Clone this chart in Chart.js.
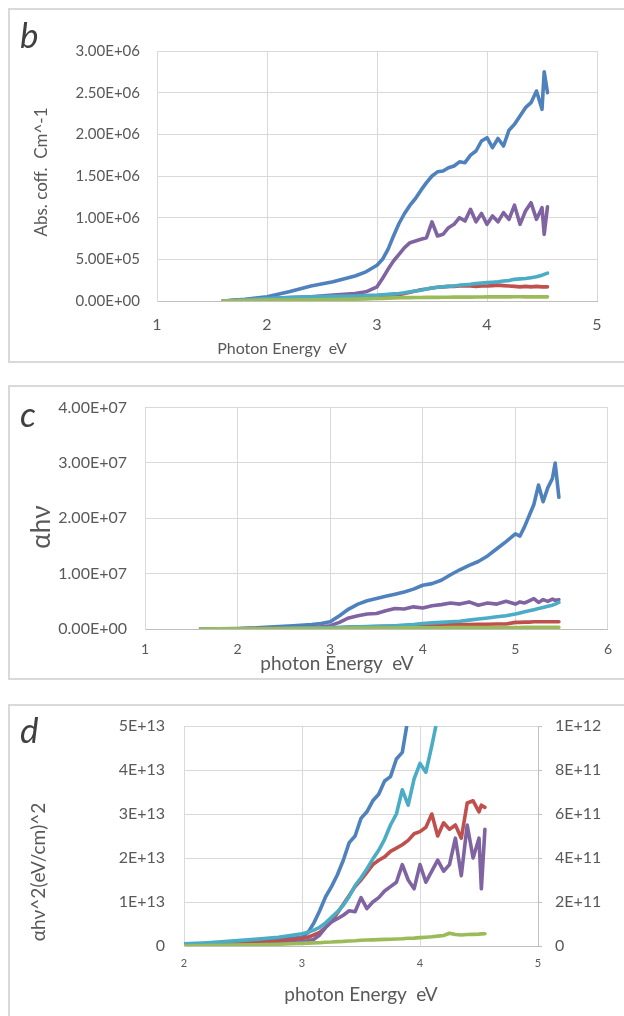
<!DOCTYPE html>
<html>
<head>
<meta charset="utf-8">
<script src="https://cdn.jsdelivr.net/npm/chart.js@4.4.1/dist/chart.umd.min.js"></script>
<style>
  body { margin: 0; background: #fff; }
  #page { position: relative; width: 624px; height: 1016px; overflow: hidden; background: #fff; }
  .panel { position: absolute; border: 2px solid #d9d9d9; box-sizing: border-box; }
  canvas { position: absolute; left: 0; }
  .t { position: absolute; font-family: Lato, sans-serif; color: #595959; white-space: pre; line-height: 1; transform: translate(-50%, -50%); }
  .r { transform: translate(-50%, -50%) rotate(-90deg); }
  .lab { position: absolute; font-family: Lato, sans-serif; font-style: italic; color: #404040; font-size: 35px; line-height: 1; }
</style>
</head>
<body>
<div id="page">
  <div class="panel" style="left:8px;top:8px;width:640px;height:355px"></div>
  <div class="panel" style="left:8px;top:385px;width:640px;height:295px"></div>
  <div class="panel" style="left:8px;top:704px;width:640px;height:400px"></div>

  <canvas id="chartB" width="624" height="380" style="top:0"></canvas>
  <canvas id="chartC" width="624" height="300" style="top:380px"></canvas>
  <canvas id="chartD" width="624" height="326" style="top:690px"></canvas>

  <div class="lab" style="left:20px;top:17px">b</div>
  <div class="lab" style="left:20px;top:396px">c</div>
  <div class="lab" style="left:20px;top:712px">d</div>

  <div class="t r" style="left:40px;top:172px;font-size:17px">Abs. coff.  Cm^-1</div>
  <div class="t" style="left:282px;top:348px;font-size:16px">Photon Energy  eV</div>
  <div class="t r" style="left:40px;top:527px;font-size:26px">αhν</div>
  <div class="t" style="left:337px;top:662px;font-size:19px">photon Energy  eV</div>
  <div class="t r" style="left:37px;top:872px;font-size:19px">αhν^2(eV/cm)^2</div>
  <div class="t" style="left:361px;top:993px;font-size:19px">photon Energy  eV</div>
</div>

<script>
// ---- panel b : absorption coefficient ----
const energyB = [1.6, 1.8, 2.0, 2.2, 2.4, 2.6, 2.8, 2.9,
  3.0, 3.05, 3.1, 3.15, 3.2, 3.25, 3.3, 3.35, 3.4, 3.45, 3.5, 3.55, 3.6, 3.65, 3.7, 3.75, 3.8, 3.85,
  3.9, 3.95, 4.0, 4.05, 4.1, 4.15, 4.2, 4.25, 4.3, 4.35, 4.4, 4.45, 4.5, 4.52, 4.55]
const blueB = [0, 0.02e6, 0.05e6, 0.11e6, 0.18e6, 0.23e6, 0.30e6, 0.35e6,
  0.43e6, 0.50e6, 0.62e6, 0.78e6, 0.93e6, 1.05e6, 1.15e6, 1.23e6, 1.33e6, 1.42e6, 1.50e6, 1.55e6, 1.56e6, 1.60e6, 1.62e6, 1.67e6, 1.66e6, 1.75e6,
  1.80e6, 1.92e6, 1.96e6, 1.84e6, 1.95e6, 1.86e6, 2.05e6, 2.12e6, 2.22e6, 2.32e6, 2.38e6, 2.52e6, 2.30e6, 2.75e6, 2.50e6]
const purpleB = [0, 0.01e6, 0.03e6, 0.04e6, 0.05e6, 0.07e6, 0.09e6, 0.11e6,
  0.17e6, 0.27e6, 0.38e6, 0.48e6, 0.56e6, 0.64e6, 0.70e6, 0.72e6, 0.74e6, 0.76e6, 0.95e6, 0.78e6, 0.80e6, 0.88e6, 0.92e6, 1.00e6, 0.96e6, 1.10e6,
  0.95e6, 1.05e6, 0.92e6, 1.02e6, 0.95e6, 1.06e6, 0.98e6, 1.15e6, 0.92e6, 1.08e6, 1.18e6, 0.98e6, 1.12e6, 0.80e6, 1.13e6]
const cyanB = [0, 0.015e6, 0.03e6, 0.04e6, 0.05e6, 0.055e6, 0.06e6, 0.065e6,
  0.07e6, 0.075e6, 0.08e6, 0.085e6, 0.09e6, 0.10e6, 0.11e6, 0.12e6, 0.13e6, 0.145e6, 0.155e6, 0.165e6, 0.17e6, 0.175e6, 0.18e6, 0.19e6, 0.195e6, 0.20e6,
  0.21e6, 0.215e6, 0.22e6, 0.225e6, 0.23e6, 0.24e6, 0.245e6, 0.26e6, 0.265e6, 0.27e6, 0.28e6, 0.29e6, 0.31e6, 0.32e6, 0.335e6]
const redB = [0, 0.01e6, 0.02e6, 0.025e6, 0.03e6, 0.035e6, 0.04e6, 0.045e6,
  0.05e6, 0.055e6, 0.06e6, 0.065e6, 0.075e6, 0.09e6, 0.105e6, 0.12e6, 0.135e6, 0.145e6, 0.155e6, 0.165e6, 0.17e6, 0.175e6, 0.175e6, 0.18e6, 0.18e6, 0.18e6,
  0.175e6, 0.18e6, 0.18e6, 0.185e6, 0.19e6, 0.185e6, 0.18e6, 0.175e6, 0.17e6, 0.175e6, 0.17e6, 0.175e6, 0.17e6, 0.17e6, 0.17e6]
const greenB = [0, 0.005e6, 0.01e6, 0.012e6, 0.015e6, 0.018e6, 0.022e6, 0.025e6,
  0.03e6, 0.032e6, 0.035e6, 0.037e6, 0.039e6, 0.04e6, 0.041e6, 0.042e6, 0.042e6, 0.043e6, 0.044e6, 0.044e6, 0.045e6, 0.045e6, 0.046e6, 0.046e6, 0.047e6, 0.047e6,
  0.048e6, 0.048e6, 0.049e6, 0.049e6, 0.05e6, 0.05e6, 0.05e6, 0.051e6, 0.051e6, 0.05e6, 0.051e6, 0.05e6, 0.05e6, 0.05e6, 0.05e6]
const bXLabels = ["1", "2", "3", "4", "5"]
const bYLabels = ["0.00E+00", "5.00E+05", "1.00E+06", "1.50E+06", "2.00E+06", "2.50E+06", "3.00E+06"]

// ---- panel c : alpha * h nu ----
const energyC = [1.6, 1.8, 2.0, 2.2, 2.4, 2.6, 2.8, 2.9,
  3.0, 3.1, 3.2, 3.3, 3.4, 3.5, 3.6, 3.7, 3.8, 3.9, 4.0, 4.1, 4.2, 4.3, 4.4, 4.5, 4.6, 4.7, 4.8, 4.9, 5.0,
  5.05, 5.1, 5.15, 5.2, 5.25, 5.3, 5.35, 5.4, 5.43, 5.47]
const blueC = [0, 0.005e7, 0.01e7, 0.02e7, 0.04e7, 0.06e7, 0.08e7, 0.10e7,
  0.13e7, 0.24e7, 0.36e7, 0.45e7, 0.51e7, 0.55e7, 0.59e7, 0.63e7, 0.67e7, 0.72e7, 0.79e7, 0.82e7, 0.88e7, 0.98e7, 1.07e7, 1.15e7, 1.22e7, 1.32e7, 1.45e7, 1.58e7, 1.72e7,
  1.68e7, 1.85e7, 2.05e7, 2.25e7, 2.60e7, 2.30e7, 2.55e7, 2.72e7, 3.0e7, 2.38e7]
const purpleC = [0, 0.002e7, 0.005e7, 0.01e7, 0.015e7, 0.02e7, 0.03e7, 0.04e7,
  0.06e7, 0.12e7, 0.20e7, 0.24e7, 0.27e7, 0.28e7, 0.33e7, 0.37e7, 0.36e7, 0.40e7, 0.38e7, 0.42e7, 0.44e7, 0.47e7, 0.45e7, 0.49e7, 0.43e7, 0.47e7, 0.45e7, 0.50e7, 0.45e7,
  0.49e7, 0.47e7, 0.51e7, 0.55e7, 0.48e7, 0.53e7, 0.50e7, 0.54e7, 0.52e7, 0.53e7]
const cyanC = [0, 0.002e7, 0.005e7, 0.008e7, 0.012e7, 0.015e7, 0.02e7, 0.022e7,
  0.025e7, 0.03e7, 0.035e7, 0.04e7, 0.045e7, 0.05e7, 0.055e7, 0.06e7, 0.07e7, 0.08e7, 0.10e7, 0.11e7, 0.12e7, 0.13e7, 0.14e7, 0.16e7, 0.18e7, 0.20e7, 0.22e7, 0.24e7, 0.27e7,
  0.29e7, 0.31e7, 0.33e7, 0.35e7, 0.37e7, 0.39e7, 0.41e7, 0.43e7, 0.45e7, 0.48e7]
const redC = [0, 0.002e7, 0.004e7, 0.006e7, 0.008e7, 0.01e7, 0.012e7, 0.014e7,
  0.016e7, 0.02e7, 0.03e7, 0.035e7, 0.04e7, 0.045e7, 0.05e7, 0.055e7, 0.06e7, 0.065e7, 0.07e7, 0.07e7, 0.075e7, 0.075e7, 0.08e7, 0.08e7, 0.085e7, 0.085e7, 0.09e7, 0.09e7, 0.12e7,
  0.12e7, 0.125e7, 0.125e7, 0.13e7, 0.13e7, 0.13e7, 0.13e7, 0.13e7, 0.13e7, 0.13e7]
const greenC = [0, 0.002e7, 0.003e7, 0.004e7, 0.005e7, 0.006e7, 0.008e7, 0.009e7,
  0.01e7, 0.012e7, 0.014e7, 0.015e7, 0.016e7, 0.017e7, 0.018e7, 0.019e7, 0.02e7, 0.021e7, 0.022e7, 0.022e7, 0.023e7, 0.024e7, 0.025e7, 0.025e7, 0.026e7, 0.027e7, 0.027e7, 0.028e7, 0.028e7,
  0.028e7, 0.029e7, 0.029e7, 0.029e7, 0.03e7, 0.03e7, 0.03e7, 0.03e7, 0.03e7, 0.03e7]
const cXLabels = ["1", "2", "3", "4", "5", "6"]
const cYLabels = ["0.00E+00", "1.00E+07", "2.00E+07", "3.00E+07", "4.00E+07"]

// ---- panel d : (alpha h nu)^2, blue/purple on left axis, others on right ----
const energyD = [2.0, 2.2, 2.4, 2.6, 2.8, 2.9,
  3.0, 3.05, 3.1, 3.15, 3.2, 3.25, 3.3, 3.35, 3.4, 3.45, 3.5, 3.55, 3.6, 3.65, 3.7, 3.75, 3.8, 3.85,
  3.9, 3.95, 4.0, 4.05, 4.1, 4.15, 4.2, 4.25, 4.3, 4.35, 4.4, 4.45, 4.5, 4.52, 4.55]
const blueD = [0.03e13, 0.05e13, 0.08e13, 0.11e13, 0.15e13, 0.17e13,
  0.2e13, 0.3e13, 0.52e13, 0.8e13, 1.12e13, 1.35e13, 1.62e13, 1.95e13, 2.35e13, 2.5e13, 2.9e13, 3.05e13, 3.3e13, 3.45e13, 3.75e13, 3.85e13, 4.25e13, 4.4e13,
  5.2e13, 5.8e13, 6.2e13, 6.5e13, 6.9e13, 7.3e13, 7.9e13, 8.4e13, 9.1e13, 9.8e13, 10.5e13, 11.6e13, 10.4e13, 13.5e13, 12.8e13]
const purpleD = [0, 0.01e13, 0.02e13, 0.03e13, 0.05e13, 0.07e13,
  0.1e13, 0.12e13, 0.15e13, 0.25e13, 0.42e13, 0.55e13, 0.62e13, 0.7e13, 0.8e13, 0.78e13, 1.1e13, 0.85e13, 1.0e13, 1.1e13, 1.25e13, 1.35e13, 1.45e13, 1.85e13,
  1.5e13, 1.3e13, 1.85e13, 1.45e13, 1.7e13, 1.95e13, 1.7e13, 1.85e13, 2.45e13, 1.6e13, 2.75e13, 2.0e13, 2.45e13, 1.3e13, 2.65e13]
const cyanD = [0.1e11, 0.15e11, 0.22e11, 0.3e11, 0.4e11, 0.48e11,
  0.56e11, 0.62e11, 0.72e11, 0.85e11, 1.05e11, 1.3e11, 1.55e11, 1.85e11, 2.25e11, 2.75e11, 3.1e11, 3.5e11, 3.95e11, 4.35e11, 4.85e11, 5.5e11, 6.0e11, 7.1e11,
  6.4e11, 7.6e11, 8.3e11, 7.9e11, 9.1e11, 10.4e11, 11.0e11, 11.5e11, 12.1e11, 12.6e11, 13.2e11, 14.0e11, 14.5e11, 15.0e11, 15.3e11]
const redD = [0.02e11, 0.05e11, 0.1e11, 0.15e11, 0.22e11, 0.28e11,
  0.34e11, 0.4e11, 0.5e11, 0.62e11, 0.85e11, 1.1e11, 1.5e11, 1.9e11, 2.3e11, 2.7e11, 3.0e11, 3.35e11, 3.7e11, 3.9e11, 4.05e11, 4.3e11, 4.45e11, 4.6e11,
  4.8e11, 5.1e11, 5.2e11, 5.4e11, 6.0e11, 5.0e11, 5.6e11, 5.3e11, 5.5e11, 4.9e11, 6.5e11, 6.6e11, 6.1e11, 6.4e11, 6.3e11]
const greenD = [0, 0.02e11, 0.04e11, 0.06e11, 0.08e11, 0.1e11,
  0.12e11, 0.13e11, 0.14e11, 0.15e11, 0.17e11, 0.18e11, 0.2e11, 0.21e11, 0.23e11, 0.24e11, 0.26e11, 0.27e11, 0.28e11, 0.29e11, 0.3e11, 0.31e11, 0.32e11, 0.33e11,
  0.35e11, 0.36e11, 0.38e11, 0.4e11, 0.42e11, 0.45e11, 0.48e11, 0.58e11, 0.52e11, 0.5e11, 0.52e11, 0.53e11, 0.54e11, 0.55e11, 0.56e11]
const dXLabels = ["2", "3", "4", "5"]
const dYLabels = ["0", "1E+13", "2E+13", "3E+13", "4E+13", "5E+13"]
const dY2Labels = ["0", "2E+11", "4E+11", "6E+11", "8E+11", "1E+12"]

const BLUE = "#4f81bd", RED = "#c0504d", GREEN = "#9bbb59", PURPLE = "#8064a2", CYAN = "#4bacc6"
const GRID = "#d9d9d9", AXIS = "#bfbfbf", TXT = "#595959", FONT = "Lato, sans-serif"

function pts(xs, ys) {
  return xs.map((x, i) => ({ x: x, y: ys[i] }))
}

function series(label, color, xs, ys, order, axis) {
  return {
    label: label,
    data: pts(xs, ys),
    borderColor: color,
    backgroundColor: color,
    borderWidth: 3.6,
    pointRadius: 0,
    fill: false,
    tension: 0,
    order: order,
    yAxisID: axis || "y",
    clip: 0,
  }
}

function baseOptions(padding) {
  return {
    responsive: false,
    animation: false,
    devicePixelRatio: 1,
    layout: { padding: padding },
    plugins: { legend: { display: false }, tooltip: { enabled: false } },
    elements: { line: { borderJoinStyle: "round", borderCapStyle: "round" } },
  }
}

function tickFont(size) {
  return { family: FONT, size: size }
}

// panel b
new Chart(document.getElementById("chartB"), {
  type: "line",
  data: {
    datasets: [
      series("blue", BLUE, energyB, blueB, 4),
      series("red", RED, energyB, redB, 3),
      series("purple", PURPLE, energyB, purpleB, 2),
      series("cyan", CYAN, energyB, cyanB, 1),
      series("green", GREEN, energyB, greenB, 0),
    ],
  },
  options: Object.assign(baseOptions({ left: 0, top: 51, right: 27, bottom: 0 }), {
    scales: {
      x: {
        type: "linear", min: 1, max: 5,
        afterFit: (s) => { s.height = 79 },
        grid: { color: GRID, drawTicks: false },
        border: { color: AXIS },
        ticks: { stepSize: 1, padding: 14, autoSkip: false, maxRotation: 0, color: TXT, font: tickFont(16),
          callback: (v, i) => bXLabels[i] },
      },
      y: {
        min: 0, max: 3e6,
        afterFit: (s) => { s.width = 157 },
        grid: { color: GRID, drawTicks: false },
        border: { color: GRID },
        ticks: { stepSize: 5e5, padding: 17, autoSkip: false, color: TXT, font: tickFont(15),
          callback: (v, i) => bYLabels[i] },
      },
    },
  }),
})

// panel c
new Chart(document.getElementById("chartC"), {
  type: "line",
  data: {
    datasets: [
      series("blue", BLUE, energyC, blueC, 4),
      series("red", RED, energyC, redC, 3),
      series("purple", PURPLE, energyC, purpleC, 2),
      series("cyan", CYAN, energyC, cyanC, 1),
      series("green", GREEN, energyC, greenC, 0),
    ],
  },
  options: Object.assign(baseOptions({ left: 0, top: 26, right: 14, bottom: 0 }), {
    scales: {
      x: {
        type: "linear", min: 1, max: 6,
        afterFit: (s) => { s.height = 51 },
        grid: { color: GRID, drawTicks: false },
        border: { color: AXIS },
        ticks: { stepSize: 1, padding: 12, autoSkip: false, maxRotation: 0, color: TXT, font: tickFont(14),
          callback: (v, i) => cXLabels[i] },
      },
      y: {
        min: 0, max: 4e7,
        afterFit: (s) => { s.width = 145 },
        grid: { color: GRID, drawTicks: false },
        border: { color: GRID },
        ticks: { stepSize: 1e7, padding: 18, autoSkip: false, color: TXT, font: tickFont(16),
          callback: (v, i) => cYLabels[i] },
      },
    },
  }),
})

// panel d
new Chart(document.getElementById("chartD"), {
  type: "line",
  data: {
    datasets: [
      series("blue", BLUE, energyD, blueD, 4, "y"),
      series("red", RED, energyD, redD, 3, "y2"),
      series("purple", PURPLE, energyD, purpleD, 2, "y"),
      series("cyan", CYAN, energyD, cyanD, 1, "y2"),
      series("green", GREEN, energyD, greenD, 0, "y2"),
    ],
  },
  options: Object.assign(baseOptions({ left: 0, top: 36, right: 0, bottom: 0 }), {
    scales: {
      x: {
        type: "linear", min: 2, max: 5,
        afterFit: (s) => { s.height = 70 },
        grid: { color: GRID, drawTicks: false },
        border: { color: AXIS },
        ticks: { stepSize: 1, padding: 11, autoSkip: false, maxRotation: 0, color: TXT, font: tickFont(11),
          callback: (v, i) => dXLabels[i] },
      },
      y: {
        position: "left", min: 0, max: 5e13,
        afterFit: (s) => { s.width = 184 },
        grid: { color: GRID, drawTicks: false },
        border: { color: GRID },
        ticks: { stepSize: 1e13, padding: 19, autoSkip: false, color: TXT, font: tickFont(16),
          callback: (v, i) => dYLabels[i] },
      },
      y2: {
        position: "right", min: 0, max: 1e12,
        afterFit: (s) => { s.width = 86 },
        grid: { drawOnChartArea: false, color: AXIS, tickLength: 4 },
        border: { color: AXIS },
        ticks: { stepSize: 2e11, padding: 13, autoSkip: false, color: TXT, font: tickFont(16),
          callback: (v, i) => dY2Labels[i] },
      },
    },
  }),
})
</script>
</body>
</html>
